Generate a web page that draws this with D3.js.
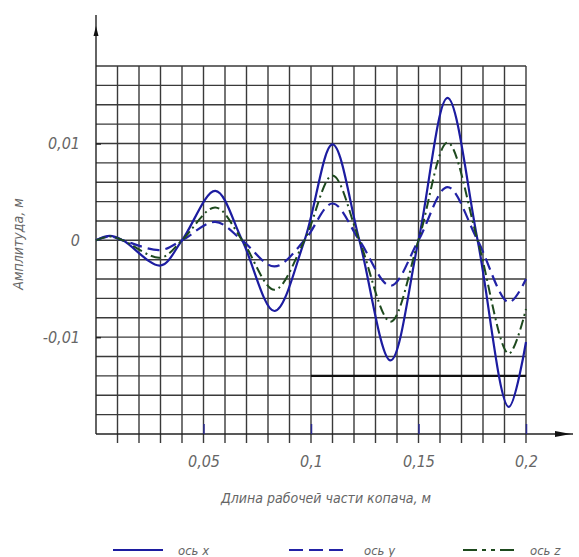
<!DOCTYPE html>
<html>
<head>
<meta charset="utf-8">
<script src="https://cdn.jsdelivr.net/npm/d3@7"></script>
<style>
  body { margin: 0; background: #fff; }
  text { font-family: "DejaVu Sans Condensed", "DejaVu Sans", sans-serif; font-stretch: condensed; font-style: italic; fill: #666; }
</style>
</head>
<body>
<svg width="579" height="557"></svg>
<script>
// length of working part, m
var xs = [0, 0.0065, 0.0125, 0.03, 0.04, 0.0555, 0.068, 0.083, 0.097, 0.110, 0.1225, 0.137, 0.150, 0.1635, 0.1775, 0.192, 0.2];
// amplitude, m
var axisX = [0, 0.00045, 0, -0.0026, 0, 0.0051, 0, -0.0073, 0, 0.0099, 0, -0.0124, 0, 0.0147, 0, -0.0172, -0.0105];
var axisY = [0, 0.0004, 0, -0.001, 0, 0.0019, 0, -0.0027, 0, 0.0038, 0, -0.0047, 0, 0.0055, 0, -0.0064, -0.004];
var axisZ = [0, 0.0004, 0, -0.0018, 0, 0.0034, 0, -0.0051, 0, 0.0067, 0, -0.0084, 0, 0.0101, 0, -0.0117, -0.0071];

var xTicks = [0.05, 0.1, 0.15, 0.2];
var yTicks = [-0.01, 0, 0.01];
var legendNames = ["ось x", "ось y", "ось z"];

var svg = d3.select("svg");

var x = d3.scaleLinear().domain([0, 0.2]).range([96, 526]);
var y = d3.scaleLinear().domain([-0.02, 0.018]).range([434, 66]);

var fmt = function (d) { return String(d).replace(".", ","); };

// grid
var grid = svg.append("g").attr("stroke", "#3a3a3a").attr("stroke-width", 1.4);
grid.selectAll("line.v")
    .data(x.ticks(20).filter(function (d) { return d > 0; }))
    .enter().append("line")
    .attr("x1", function (d) { return x(d); })
    .attr("x2", function (d) { return x(d); })
    .attr("y1", y(0.018))
    .attr("y2", y(-0.02) + 9);
grid.selectAll("line.h")
    .data(y.ticks(19).filter(function (d) { return d > -0.0199; }))
    .enter().append("line")
    .attr("x1", x(0))
    .attr("x2", x(0.2))
    .attr("y1", function (d) { return y(d); })
    .attr("y2", function (d) { return y(d); });

// thick line at -0.014
svg.append("line")
    .attr("x1", x(0.1)).attr("x2", x(0.2))
    .attr("y1", y(-0.014)).attr("y2", y(-0.014))
    .attr("stroke", "#111").attr("stroke-width", 2.2);

// axes lines with arrows
svg.append("line")
    .attr("x1", x(0)).attr("x2", x(0))
    .attr("y1", y(-0.02)).attr("y2", 15)
    .attr("stroke", "#222").attr("stroke-width", 1.4);
svg.append("path")
    .attr("d", "M" + (x(0) - 2.5) + ",36 L" + x(0) + ",26 L" + (x(0) + 2.5) + ",36 Z")
    .attr("fill", "#111");
svg.append("line")
    .attr("x1", x(0)).attr("x2", 573)
    .attr("y1", y(-0.02)).attr("y2", y(-0.02))
    .attr("stroke", "#222").attr("stroke-width", 1.4);
svg.append("path")
    .attr("d", "M555," + (y(-0.02) - 3) + " L571," + y(-0.02) + " L555," + (y(-0.02) + 3) + " Z")
    .attr("fill", "#111");

// y axis
var yAxis = d3.axisLeft(y).tickValues(yTicks).tickFormat(fmt).tickSizeInner(-5).tickSizeOuter(0).tickPadding(16);
var gy = svg.append("g").attr("transform", "translate(" + x(0) + ",0)").call(yAxis);
gy.select(".domain").remove();
gy.selectAll(".tick line").attr("stroke", "#222").attr("stroke-width", 1.5)
    .filter(function (d) { return d === 0; }).remove();
gy.selectAll(".tick text").attr("font-size", 16).attr("font-family", null).attr("fill", "#666");

// x axis
var xAxis = d3.axisBottom(x).tickValues(xTicks).tickFormat(fmt).tickSizeInner(-10).tickSizeOuter(0).tickPadding(22);
var gx = svg.append("g").attr("transform", "translate(0," + y(-0.02) + ")").call(xAxis);
gx.select(".domain").remove();
gx.selectAll(".tick line").attr("stroke", "#2a2a90").attr("stroke-width", 1.5);
gx.selectAll(".tick text").attr("font-size", 16).attr("font-family", null).attr("fill", "#666");

// titles
svg.append("text")
    .attr("x", 326).attr("y", 503)
    .attr("text-anchor", "middle")
    .attr("font-size", 14)
    .text("Длина рабочей части копача, м");
svg.append("text")
    .attr("transform", "translate(23,244) rotate(-90)")
    .attr("text-anchor", "middle")
    .attr("font-size", 14)
    .text("Амплитуда, м");

// series
var series = [
    { vals: axisX, color: "#1c1ca0", dash: null, w: 2.2 },
    { vals: axisY, color: "#2222a6", dash: "12,6", w: 2.2 },
    { vals: axisZ, color: "#1e4a1e", dash: "10,4,2,4", w: 2 }
];

var line = d3.line()
    .x(function (d, i) { return x(xs[i]); })
    .y(function (d) { return y(d); })
    .curve(d3.curveCatmullRom.alpha(0.5));

svg.selectAll("path.series")
    .data(series)
    .enter().append("path")
    .attr("class", "series")
    .attr("d", function (s) { return line(s.vals); })
    .attr("fill", "none")
    .attr("stroke", function (s) { return s.color; })
    .attr("stroke-width", function (s) { return s.w; })
    .attr("stroke-dasharray", function (s) { return s.dash; });

// legend
var legX = [113, 289, 463];
var legW = [50, 60, 52];
var leg = svg.selectAll("g.leg")
    .data(series)
    .enter().append("g")
    .attr("class", "leg");
leg.append("line")
    .attr("x1", function (d, i) { return legX[i]; })
    .attr("x2", function (d, i) { return legX[i] + legW[i]; })
    .attr("y1", 550).attr("y2", 550)
    .attr("stroke", function (s) { return s.color; })
    .attr("stroke-width", 2)
    .attr("stroke-dasharray", function (s, i) { return i === 1 ? "14,6" : (i === 2 ? "14,5,4,5,4,5" : null); });
leg.append("text")
    .attr("x", function (d, i) { return legX[i] + legW[i] + 15; })
    .attr("y", 555)
    .attr("font-size", 13)
    .text(function (d, i) { return legendNames[i]; });
</script>
</body>
</html>
